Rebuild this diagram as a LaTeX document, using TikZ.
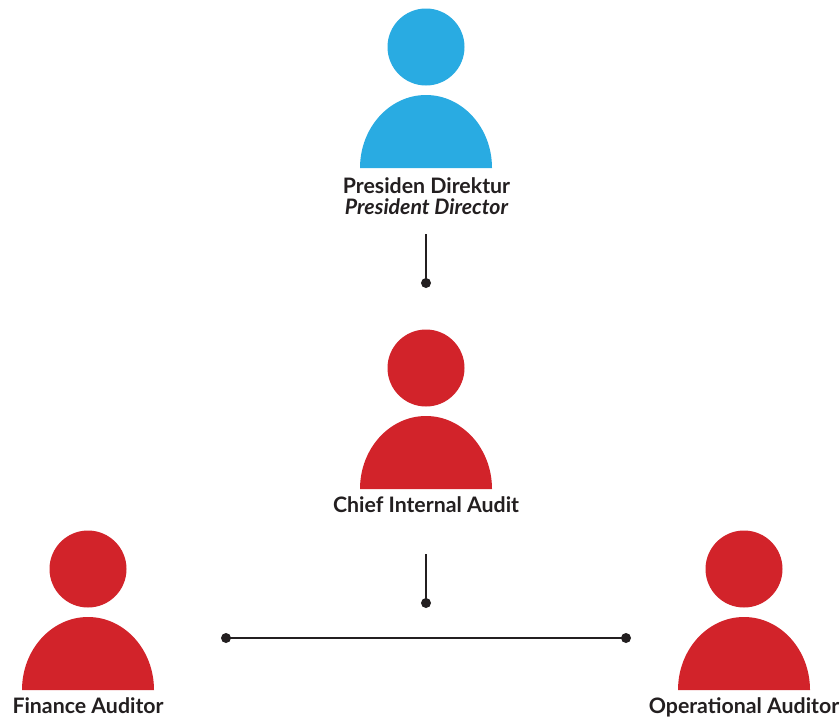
\documentclass[tikz,border=0pt]{standalone}
\usepackage{fontspec}
\setmainfont{Lato}
\definecolor{pblue}{HTML}{29ABE2}
\definecolor{pred}{HTML}{D2232A}
\definecolor{ink}{HTML}{231F20}
\begin{document}
\begin{tikzpicture}[x=1pt,y=-1pt,
  head/.style={circle,fill=#1,minimum size=77pt,inner sep=0pt},
  lbl/.style={anchor=base,inner sep=0pt,text=ink,font=\fontsize{21.3}{21}\selectfont\bfseries},
  conn/.style={draw=ink,line width=2.6pt},
  dot/.style={circle,fill=ink,minimum size=10pt,inner sep=0pt}]
\useasboundingbox (0,0) rectangle (840,718);
\fill[white] (0,0) rectangle (840,718);
\tikzset{person/.pic={
  \node[head=\pcol] (-head) at (0,-121) {};
  \fill[\pcol] (-66,0) arc[start angle=180,end angle=0,x radius=66pt,y radius=73pt] -- cycle;
}}
\def\pcol{pblue}
\pic (pd) at (426,168) {person};
\def\pcol{pred}
\pic (cia) at (426,489) {person};
\pic (fa) at (88,690) {person};
\pic (oa) at (744,690) {person};
\node[lbl] (pdt1) at (426.5,193) {Presiden Direktur};
\node[lbl,font=\fontsize{21.3}{21}\selectfont\bfseries\itshape] (pdt2) at (426.5,214) {President Director};
\node[lbl] (ciat) at (426,512) {Chief Internal Audit};
\node[lbl] (fat) at (88,713) {Finance Auditor};
\node[lbl] (oat) at (744,713) {Operational Auditor};
\coordinate (c1a) at (426,234);
\node[dot] (c1b) at (426,283) {};
\draw[conn] (c1a) -- (c1b.center);
\coordinate (c2a) at (426,554);
\node[dot] (c2b) at (426,603) {};
\draw[conn] (c2a) -- (c2b.center);
\node[dot] (hl) at (226,638) {};
\node[dot] (hr) at (626,638) {};
\draw[conn] (hl.center) -- (hr.center);
\end{tikzpicture}
\end{document}
